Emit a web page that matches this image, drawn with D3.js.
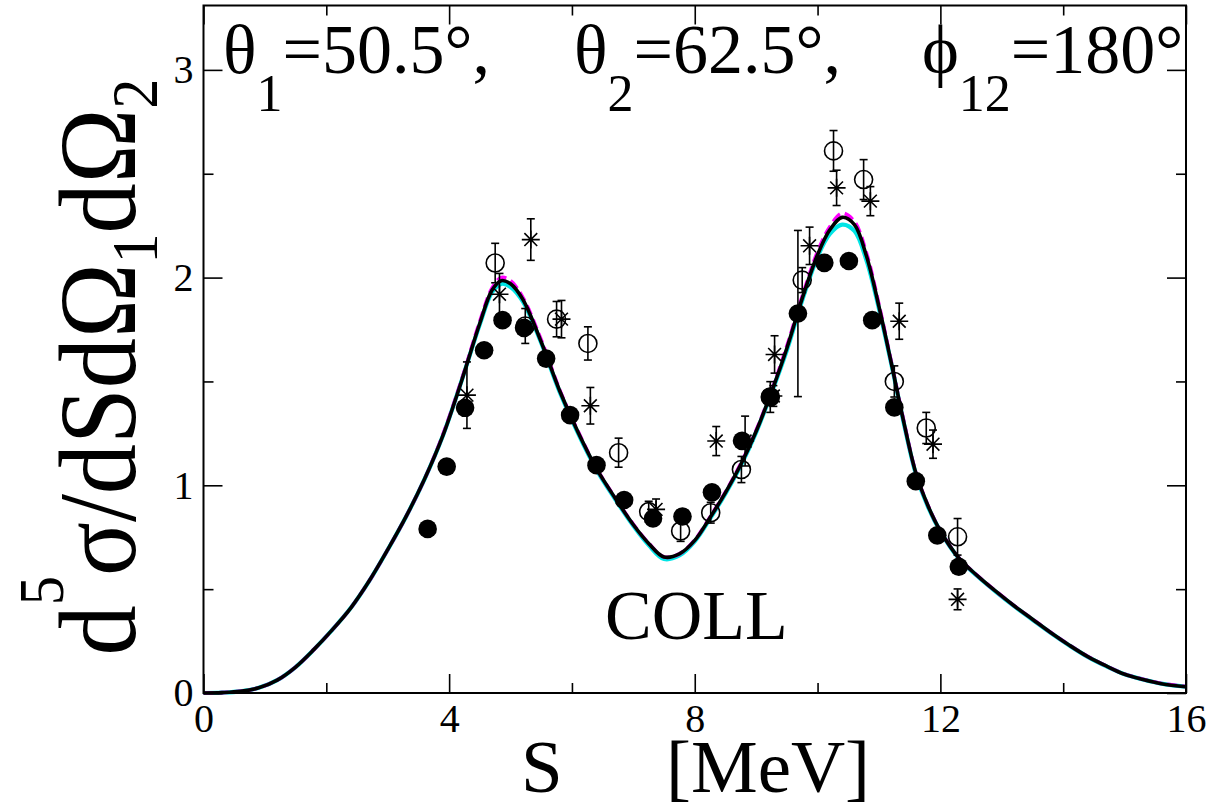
<!DOCTYPE html>
<html>
<head>
<meta charset="utf-8">
<script src="https://cdn.jsdelivr.net/npm/d3@7"></script>
<style>
  html, body { margin: 0; padding: 0; background: #fff; }
  svg { display: block; }
  text { font-family: "Liberation Serif", "Times New Roman", Times, serif; fill: #000; }
</style>
</head>
<body>
<svg id="chart" width="1221" height="809"></svg>
<script>
// S grid (MeV) shared by the theoretical curves
const sGrid = [0.0,0.3,0.6,0.9,1.2,1.5,1.8,2.1,2.4,2.7,
  3.0,3.3,3.6,3.9,4.2,4.5,4.7,4.85,5.0,5.2,
  5.5,5.8,6.1,6.4,6.7,7.0,7.25,7.5,7.75,8.0,
  8.25,8.5,8.75,9.0,9.25,9.5,9.75,10.0,10.2,10.4,
  10.6,10.8,11.0,11.2,11.4,11.6,11.8,12.0,12.3,12.6,
  12.9,13.2,13.5,13.8,14.1,14.4,14.7,15.0,15.3,15.6,16.0];

// theoretical cross sections
const curveBlack = [0.000,0.002,0.008,0.025,0.062,0.125,0.21,0.305,0.41,0.54,
  0.69,0.85,1.03,1.24,1.50,1.78,1.94,1.985,1.97,1.895,
  1.69,1.455,1.255,1.08,0.94,0.81,0.72,0.655,0.67,0.735,
  0.845,0.965,1.10,1.26,1.45,1.66,1.90,2.11,2.23,2.29,
  2.255,2.10,1.86,1.59,1.31,1.06,0.90,0.78,0.65,0.565,
  0.49,0.42,0.355,0.29,0.23,0.175,0.13,0.09,0.065,0.045,0.03];
const curveCyan = [0.000,0.002,0.008,0.025,0.062,0.125,0.21,0.305,0.41,0.54,
  0.69,0.85,1.03,1.24,1.50,1.775,1.93,1.97,1.955,1.885,
  1.685,1.45,1.25,1.075,0.935,0.805,0.712,0.645,0.662,0.73,
  0.84,0.96,1.095,1.255,1.445,1.65,1.89,2.10,2.21,2.255,
  2.225,2.08,1.85,1.585,1.305,1.055,0.895,0.778,0.648,0.563,
  0.488,0.418,0.353,0.289,0.229,0.174,0.129,0.09,0.065,0.045,0.03];
const curveMagenta = [0.000,0.002,0.008,0.025,0.062,0.125,0.21,0.305,0.41,0.54,
  0.69,0.85,1.03,1.245,1.505,1.79,1.95,2.00,1.985,1.905,
  1.70,1.46,1.26,1.082,0.942,0.812,0.722,0.655,0.67,0.737,
  0.848,0.968,1.105,1.265,1.455,1.67,1.91,2.125,2.245,2.31,
  2.27,2.115,1.87,1.595,1.315,1.062,0.902,0.782,0.651,0.566,
  0.491,0.421,0.356,0.291,0.231,0.176,0.131,0.091,0.066,0.046,0.031];

// data set 1: filled circles
const filledS   = [3.65,3.96,4.26,4.57,4.87,5.22,5.58,5.97,6.40,6.85,7.32,7.80,
  8.28,8.77,9.23,9.68,10.11,10.51,10.89,11.25,11.60,11.95,12.30];
const filledV   = [0.79,1.09,1.373,1.65,1.795,1.758,1.61,1.338,1.097,0.929,0.84,0.85,
  0.966,1.214,1.426,1.827,2.071,2.08,1.795,1.375,1.02,0.759,0.608];
const filledErr = [0,0,0,0,0,0,0,0,0,0,0,0,
  0,0,0,0.40,0,0,0,0,0,0,0];

// data set 2: open circles
const openS   = [4.75,5.24,5.75,6.26,6.76,7.25,7.77,8.26,8.76,9.23,9.75,10.26,10.75,11.25,11.77,12.28];
const openV   = [2.07,1.767,1.80,1.683,1.157,0.873,0.78,0.868,1.076,1.425,1.988,2.61,2.472,1.50,1.276,0.752];
const openErr = [0.095,0.084,0.085,0.08,0.07,0.05,0.05,0.05,0.063,0.074,0.06,0.098,0.096,0.075,0.075,0.088];

// data set 3: stars
const starS   = [4.29,4.82,5.33,5.83,6.30,7.37,8.35,8.82,9.28,9.30,9.87,10.31,10.86,11.33,11.88,12.28];
const starV   = [1.434,1.92,2.183,1.80,1.383,0.884,1.213,1.213,1.43,1.63,2.153,2.432,2.368,1.79,1.198,0.451];
const starErr = [0.16,0.10,0.10,0.09,0.088,0.05,0.07,0.12,0.05,0.09,0.09,0.085,0.07,0.087,0.068,0.05];

// axis ticks
const xMajor = [0,4,8,12,16];
const xMinor = [2,6,10,14];
const yMajor = [0,1,2,3];
const yMinor = [0.5,1.5,2.5];

const svg = d3.select("#chart");
const x = d3.scaleLinear().domain([0,16]).range([203.5,1186]);
const y = d3.scaleLinear().domain([0,3.31]).range([693,5.5]);

const MAJ = 19, MIN = 10, TICKFONT = 40;

// curves: cyan underneath, magenta dashed, solid black on top
const line = d3.line().x(d => x(d[0])).y(d => y(d[1])).curve(d3.curveCatmullRom);
const plot = svg.append("g");
plot.append("path").datum(sGrid.map((s,i)=>[s,curveCyan[i]]))
  .attr("d", line).attr("fill","none").attr("stroke","#00e5e5").attr("stroke-width",4.2);
plot.append("path").datum(sGrid.map((s,i)=>[s,curveMagenta[i]]))
  .attr("d", line).attr("fill","none").attr("stroke","#ff00ff").attr("stroke-width",3.6)
  .attr("stroke-dasharray","10,5");
plot.append("path").datum(sGrid.map((s,i)=>[s,curveBlack[i]]))
  .attr("d", line).attr("fill","none").attr("stroke","#000").attr("stroke-width",3.6);

// error bars helper
function errBars(sArr, vArr, eArr) {
  const g = plot.append("g").attr("stroke","#000").attr("stroke-width",1.6).attr("fill","none");
  sArr.forEach((s,i) => {
    const e = eArr[i];
    if (!e) return;
    const cx = x(s), y1 = y(vArr[i]-e), y2 = y(vArr[i]+e);
    g.append("line").attr("x1",cx).attr("x2",cx).attr("y1",y1).attr("y2",y2);
    g.append("line").attr("x1",cx-4).attr("x2",cx+4).attr("y1",y1).attr("y2",y1);
    g.append("line").attr("x1",cx-4).attr("x2",cx+4).attr("y1",y2).attr("y2",y2);
  });
}

// open circles
errBars(openS, openV, openErr);
plot.append("g").selectAll("circle").data(openS).join("circle")
  .attr("cx", d => x(d)).attr("cy", (d,i) => y(openV[i])).attr("r", 9)
  .attr("fill","none").attr("stroke","#000").attr("stroke-width",1.6);

// stars
errBars(starS, starV, starErr);
const starPath = "M-9,0H9M0,-9V9M-6.4,-6.4L6.4,6.4M-6.4,6.4L6.4,-6.4";
plot.append("g").selectAll("path").data(starS).join("path")
  .attr("transform", (d,i) => `translate(${x(d)},${y(starV[i])})`)
  .attr("d", starPath).attr("fill","none").attr("stroke","#000").attr("stroke-width",1.6);

// filled circles
errBars(filledS, filledV, filledErr);
plot.append("g").selectAll("circle").data(filledS).join("circle")
  .attr("cx", d => x(d)).attr("cy", (d,i) => y(filledV[i])).attr("r", 9.3)
  .attr("fill","#000");

// axes: inward ticks on all four sides
function styleAxis(g) {
  g.select(".domain").remove();
  g.selectAll(".tick line").attr("stroke","#000").attr("stroke-width",1.6);
  g.selectAll(".tick text").attr("font-family",'"Liberation Serif","Times New Roman",serif')
    .attr("font-size",TICKFONT).attr("fill","#000");
}
svg.append("g").attr("transform","translate(0,693)")
  .call(d3.axisBottom(x).tickValues(xMajor).tickSize(-MAJ).tickPadding(11).tickFormat(d3.format("d")))
  .call(styleAxis);
svg.append("g").attr("transform","translate(0,693)")
  .call(d3.axisBottom(x).tickValues(xMinor).tickSize(-MIN).tickFormat("")).call(styleAxis);
svg.append("g").attr("transform","translate(0,5.5)")
  .call(d3.axisTop(x).tickValues(xMajor).tickSize(-MAJ).tickFormat("")).call(styleAxis);
svg.append("g").attr("transform","translate(0,5.5)")
  .call(d3.axisTop(x).tickValues(xMinor).tickSize(-MIN).tickFormat("")).call(styleAxis);
svg.append("g").attr("transform","translate(203.5,0)")
  .call(d3.axisLeft(y).tickValues(yMajor).tickSize(-MAJ).tickPadding(10).tickFormat(d3.format("d")))
  .call(styleAxis);
svg.append("g").attr("transform","translate(203.5,0)")
  .call(d3.axisLeft(y).tickValues(yMinor).tickSize(-MIN).tickFormat("")).call(styleAxis);
svg.append("g").attr("transform","translate(1186,0)")
  .call(d3.axisRight(y).tickValues(yMajor).tickSize(-MAJ).tickFormat("")).call(styleAxis);
svg.append("g").attr("transform","translate(1186,0)")
  .call(d3.axisRight(y).tickValues(yMinor).tickSize(-MIN).tickFormat("")).call(styleAxis);

// frame
svg.append("rect").attr("x",203.5).attr("y",5.5).attr("width",1186-203.5).attr("height",693-5.5)
  .attr("fill","none").attr("stroke","#000").attr("stroke-width",2);

// kinematics header
function subText(xPos, main, sub, rest) {
  const t = svg.append("text").attr("x", xPos).attr("y", 73).attr("font-size", 70);
  t.append("tspan").text(main);
  t.append("tspan").attr("font-size", 52).attr("dy", 38).text(sub);
  t.append("tspan").attr("dy", -38).text(rest);
}
subText(223, "θ", "1", "=50.5°,");
subText(574, "θ", "2", "=62.5°,");
subText(922, "ϕ", "12", "=180°");

// model label
svg.append("text").attr("x", 605).attr("y", 639).attr("font-size", 70).text("COLL");

// x-axis title
svg.append("text").attr("x", 521).attr("y", 792).attr("font-size", 75).text("S");
svg.append("text").attr("x", 666).attr("y", 792).attr("font-size", 75).text("[MeV]");

// y-axis title
const yt = svg.append("text").attr("font-size", 110).attr("text-anchor","middle");
yt.append("tspan").text("d");
yt.append("tspan").attr("font-size", 64).attr("dy", -72).text("5");
yt.append("tspan").attr("dy", 72).text("σ/dSdΩ");
yt.append("tspan").attr("font-size", 66).attr("dy", 22).text("1");
yt.append("tspan").attr("dy", -22).text("dΩ");
yt.append("tspan").attr("font-size", 66).attr("dy", 22).text("2");
const len = yt.node().getComputedTextLength();
const k = 577 / len;
yt.attr("transform", `translate(135,367) rotate(-90) scale(${k},1)`);
</script>
</body>
</html>
